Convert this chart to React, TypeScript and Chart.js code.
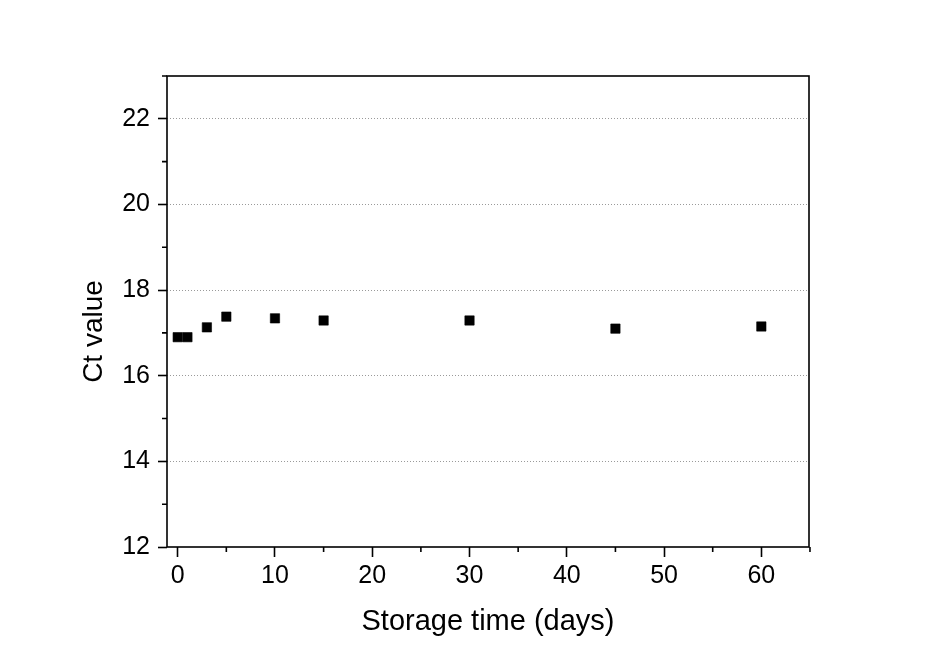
import React, { useEffect, useRef } from "react";
import { Chart, registerables } from "chart.js";

Chart.register(...registerables);

const storageDays = [0, 1, 3, 5, 10, 15, 30, 45, 60];
const ctValues = [16.9, 16.9, 17.13, 17.38, 17.34, 17.29, 17.29, 17.1, 17.15];
const xMajorTicks = [0, 10, 20, 30, 40, 50, 60];
const xMinorTicks = [5, 15, 25, 35, 45, 55, 65];
const yMajorTicks = [12, 14, 16, 18, 20, 22];
const yMinorTicks = [13, 15, 17, 19, 21, 23];
const xTitle = "Storage time (days)";
const yTitle = "Ct value";

const FONT = '"Liberation Sans", Arial, sans-serif';

const framePlugin = {
  id: "frame",
  afterDraw(chart: any) {
    const { ctx, chartArea } = chart;
    const { left, right, top, bottom } = chartArea;
    const xs = chart.scales.x;
    const ys = chart.scales.y;
    ctx.save();
    ctx.strokeStyle = "#000";
    ctx.lineWidth = 1.6;
    ctx.strokeRect(left, top, right - left, bottom - top);
    ctx.beginPath();
    yMinorTicks.forEach((v) => {
      const p = ys.getPixelForValue(v);
      ctx.moveTo(left - 5, p);
      ctx.lineTo(left, p);
    });
    xMinorTicks.forEach((v) => {
      const p = xs.getPixelForValue(v);
      ctx.moveTo(p, bottom);
      ctx.lineTo(p, bottom + 5);
    });
    ctx.stroke();
    ctx.translate(left - 73, (top + bottom) / 2 + 20);
    ctx.rotate(-Math.PI / 2);
    ctx.font = `28px ${FONT}`;
    ctx.fillStyle = "#000";
    ctx.textAlign = "center";
    ctx.textBaseline = "middle";
    ctx.fillText(yTitle, 0, 0);
    ctx.restore();
  },
};

export default function App() {
  const ref = useRef<HTMLCanvasElement | null>(null);
  useEffect(() => {
    document.body.style.margin = "0";
    const canvas = ref.current;
    if (!canvas) return;
    const chart = new Chart(canvas, {
      type: "scatter",
      data: {
        datasets: [
          {
            label: "Ct",
            data: storageDays.map((d, i) => ({ x: d, y: ctValues[i] })),
            pointStyle: "rect",
            pointRadius: 6.6,
            pointBorderWidth: 0.6,
            backgroundColor: "#000",
            borderColor: "#000",
            showLine: false,
          },
        ],
      },
      options: {
        animation: false,
        responsive: false,
        devicePixelRatio: 1,
        layout: { padding: { top: 76, right: 131, bottom: 0, left: 0 } },
        plugins: { legend: { display: false }, tooltip: { enabled: false } },
        scales: {
          x: {
            type: "linear",
            min: -1.1,
            max: 64.9,
            afterBuildTicks: (s: any) => {
              s.ticks = xMajorTicks.map((v) => ({ value: v }));
            },
            afterFit: (s: any) => {
              s.height = 109;
            },
            grid: {
              drawOnChartArea: false,
              drawTicks: true,
              tickLength: 10,
              tickColor: "#000",
              tickWidth: 1.6,
            },
            border: { display: false },
            ticks: {
              color: "#000",
              font: { family: FONT, size: 25 },
              padding: 4,
              maxRotation: 0,
              autoSkip: false,
            },
            title: {
              display: true,
              text: xTitle,
              color: "#000",
              font: { family: FONT, size: 29 },
              padding: { top: 0, bottom: 17 },
            },
          },
          y: {
            type: "linear",
            min: 12,
            max: 23,
            afterBuildTicks: (s: any) => {
              s.ticks = yMajorTicks.map((v) => ({ value: v }));
            },
            afterFit: (s: any) => {
              s.width = 167;
            },
            grid: {
              drawOnChartArea: true,
              color: (c: any) =>
                c.tick && c.tick.value === 12 ? "rgba(0,0,0,0)" : "#9a9a9a",
              lineWidth: 1,
              tickLength: 9,
              tickColor: "#000",
              tickWidth: 1.6,
            },
            border: { display: false, dash: [1, 2] },
            ticks: {
              color: "#000",
              font: { family: FONT, size: 25 },
              padding: 8,
              autoSkip: false,
            },
          },
        },
      },
      plugins: [framePlugin],
    } as any);
    return () => chart.destroy();
  }, []);
  return (
    <div style={{ width: 940, height: 656 }}>
      <canvas ref={ref} width={940} height={656} style={{ width: 940, height: 656, display: "block" }} />
    </div>
  );
}
